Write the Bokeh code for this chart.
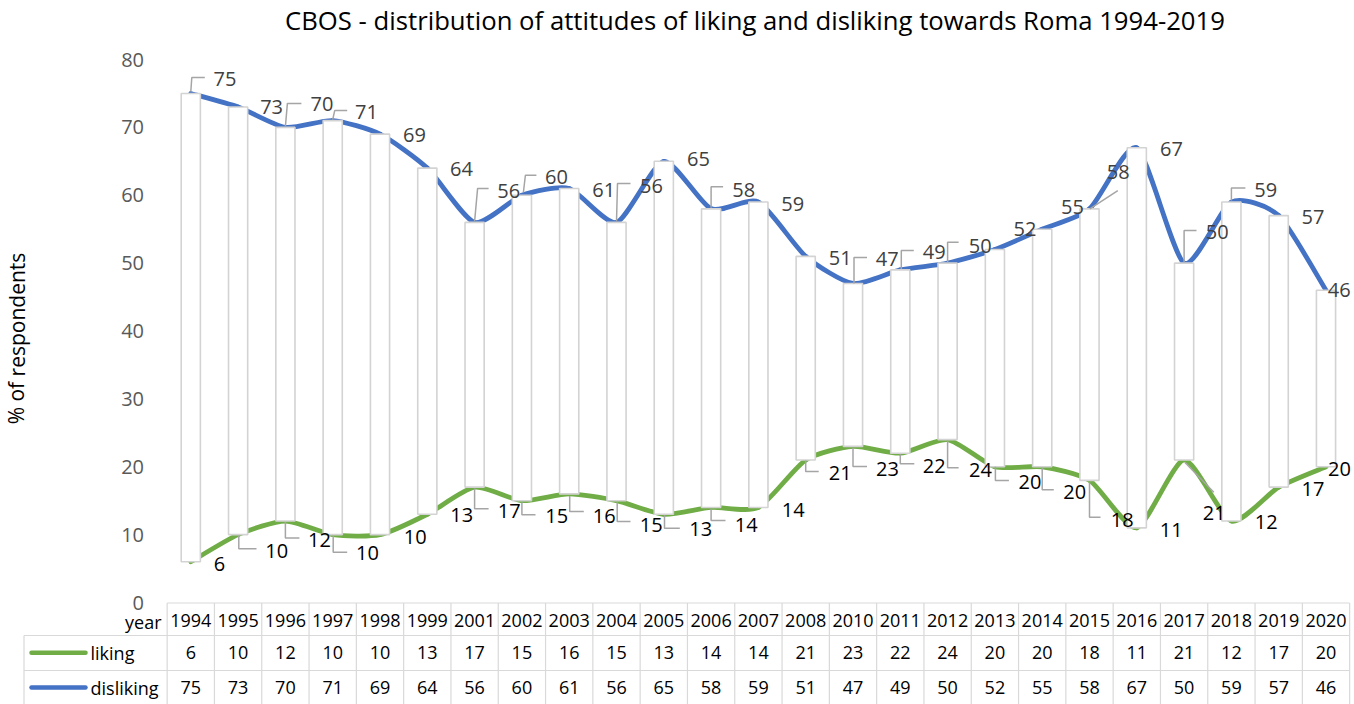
from bokeh.plotting import figure
from bokeh.models import Range1d
from bokeh.embed import file_html
from bokeh.resources import INLINE
from bokeh.core.properties import value

# ---------------- data ----------------
years = ["1994", "1995", "1996", "1997", "1998", "1999", "2001", "2002", "2003", "2004",
         "2005", "2006", "2007", "2008", "2010", "2011", "2012", "2013", "2014", "2015",
         "2016", "2017", "2018", "2019", "2020"]
liking = [6, 10, 12, 10, 10, 13, 17, 15, 16, 15, 13, 14, 14, 21, 23, 22, 24, 20, 20, 18, 11, 21, 12, 17, 20]
disliking = [75, 73, 70, 71, 69, 64, 56, 60, 61, 56, 65, 58, 59, 51, 47, 49, 50, 52, 55, 58, 67, 50, 59, 57, 46]
y_ticks = [0, 10, 20, 30, 40, 50, 60, 70, 80]
series_names = ["liking", "disliking"]
title_text = "CBOS - distribution of attitudes of liking and disliking towards Roma 1994-2019"
y_title = "% of respondents"
header_label = "year"

# ---------------- layout helpers (pixel -> data) ----------------
FIG_W, FIG_H = 1354, 704
X0_PAGE, STEP = 190.3, 47.3         # pixel x of first category, px per category
Y0_PAGE, UNIT = 602.0, 6.7875       # pixel y of value 0, px per unit

def dxp(px):
    return (px - X0_PAGE) / STEP

def dyp(py):
    return (Y0_PAGE - py) / UNIT

GREEN = "#70AD47"
BLUE = "#4472C4"
FONT = value("Open Sans")
n = len(years)
idx = list(range(n))

p = figure(width=FIG_W, height=FIG_H, output_backend="svg", toolbar_location=None,
           x_range=Range1d(dxp(0), dxp(FIG_W)), y_range=Range1d(dyp(FIG_H), dyp(0)),
           x_axis_type=None, y_axis_type=None, min_border=0,
           outline_line_color=None, background_fill_color="white", border_fill_color="white")

# ---------------- smoothed lines ----------------
def bez(vals, k=9.0):
    x0, y0, x1, y1, cx0, cy0, cx1, cy1 = [], [], [], [], [], [], [], []
    m = len(vals)
    for i in range(m - 1):
        a, b = max(i - 1, 0), min(i + 2, m - 1)
        x0.append(i); y0.append(vals[i]); x1.append(i + 1); y1.append(vals[i + 1])
        cx0.append(i + (i + 1 - a) / k); cy0.append(vals[i] + (vals[i + 1] - vals[a]) / k)
        cx1.append(i + 1 - (b - i) / k); cy1.append(vals[i + 1] - (vals[b] - vals[i]) / k)
    return dict(x0=x0, y0=y0, x1=x1, y1=y1, cx0=cx0, cy0=cy0, cx1=cx1, cy1=cy1)

for vals, col in ((liking, GREEN), (disliking, BLUE)):
    b = bez(vals)
    p.bezier(x0=b["x0"], y0=b["y0"], x1=b["x1"], y1=b["y1"], cx0=b["cx0"], cy0=b["cy0"],
             cx1=b["cx1"], cy1=b["cy1"], line_color=col, line_width=4.8, line_cap="round")

# ---------------- up-down bars ----------------
p.vbar(x=idx, bottom=liking, top=disliking, width=0.405, fill_color="white",
       line_color="#D3D3D3", line_width=1.6)

# ---------------- data labels (pixel offsets of label centres) ----------------
dis_off = [(34.2, -14.9), (33.5, 0), (36.6, -23.6), (33.8, -8.4), (34.5, 1.3), (34.2, 0.4),
           (34.2, -31.9), (34.6, -18), (34.6, 2), (35, -36.9), (34.7, -2.8), (32.7, -19),
           (34.4, 1.8), (34.5, 1.9), (34.2, -24.7), (34, -17.7), (32.6, -17.6), (30.1, -21),
           (30.3, -22), (28.7, -36.6), (34.7, 1.1), (33.1, -31.6), (34.4, -12.2), (34.3, 1.6),
           (13.2, 0.2)]
lik_off = [(28.7, 2), (38.7, 15.9), (34.1, 18.75), (34.8, 18.6), (35.2, 1.9), (34.5, 1.2),
           (34.6, 23.4), (34.9, 15.8), (35.1, 21.6), (34.8, 24.1), (37, 14.5), (35.2, 17.3),
           (34.9, 2.3), (34.5, 13.2), (34.5, 22.4), (34, 13.3), (32.9, 30.2), (35.1, 15.4),
           (32.5, 25.4), (32.7, 39.5), (34.5, 1.7), (30.2, 53.2), (34.9, 1.15), (34.3, 1.7),
           (13.5, 2)]
dis_lead = {0: [(0, -2), (1, -16), (14, -16)], 2: [(0, -1), (2, -24), (16, -24)],
            3: [(0, -1), (2, -10), (14.5, -10)], 6: [(0, -1), (3, -34), (14, -34)],
            7: [(1.5, -3), (3.5, -20), (14.5, -20)], 9: [(0, -1), (1, -39), (14, -39)],
            11: [(0, -1), (0, -22), (12, -22)], 14: [(1, 0), (1, -26), (14, -26)],
            15: [(1, -1), (1, -19.4), (13.5, -19.4)], 16: [(0, -1), (0, -21), (11, -21)],
            19: [(0.3, 0), (28.3, -18.3)], 21: [(0, -1), (0, -32.6), (12.4, -32.6)],
            22: [(0, -1.5), (0, -14), (14, -14)]}
lik_lead = {1: [(0.7, 1), (0.7, 14.2), (18.4, 14.2)], 2: [(0, 1), (0, 17), (14, 17)],
            3: [(0.5, 1), (0.5, 17.6), (14.5, 17.6)], 6: [(0, 1.5), (0, 21.7), (14, 21.7)],
            7: [(0, 1.5), (0, 14), (13.6, 14)], 8: [(0.5, 2), (0.5, 17.6), (14.6, 17.6)],
            9: [(0.7, 1.5), (0.7, 20.8), (14, 20.8)], 10: [(0.7, 1), (0.7, 13.9), (16, 13.9)],
            11: [(0, 1.3), (0, 13), (14.4, 13)], 13: [(0, 0.5), (0, 11.5), (13, 11.5)],
            14: [(0, 1), (0, 20), (14, 20)], 15: [(0, 1), (0, 10.6), (14, 10.6)],
            16: [(0, 1), (0, 28.2), (11, 28.2)], 17: [(0.5, 0), (0.5, 13.75), (14, 13.75)],
            18: [(0, 1), (0, 23), (11.6, 23)], 19: [(0, 2), (0, 37), (11, 37)],
            21: [(0.7, 2.2), (29.7, 32.2)]}

for vals, leads in ((disliking, dis_lead), (liking, lik_lead)):
    xs, ys = [], []
    for i, pts in leads.items():
        xs.append([i + a / STEP for a, _ in pts])
        ys.append([vals[i] - c / UNIT for _, c in pts])
    p.multi_line(xs=xs, ys=ys, line_color="#A5A5A5", line_width=1.5)

for vals, offs, col in ((disliking, dis_off, "#404040"), (liking, lik_off, "#000000")):
    p.text(x=idx, y=vals, text=[str(v) for v in vals],
           x_offset=[o[0] for o in offs], y_offset=[o[1] for o in offs],
           text_align="center", text_baseline="middle", text_font=FONT,
           text_font_size="20px", text_color=col)

# ---------------- y tick labels ----------------
p.text(x=[dxp(143.5)] * len(y_ticks), y=y_ticks, text=[str(t) for t in y_ticks],
       text_align="right", text_baseline="middle", text_font=FONT,
       text_font_size="20px", text_color="#595959")

# ---------------- titles ----------------
p.text(x=[dxp(754.5)], y=[dyp(19.5)], text=[title_text], text_align="center",
       text_baseline="middle", text_font=FONT, text_font_size="25.7px", text_color="#000000")
p.text(x=[dxp(16)], y=[dyp(338)], text=[y_title], angle=1.5707963, text_align="center",
       text_baseline="middle", text_line_height=1.0, text_font=FONT, text_font_size="21px",
       text_color="#000000")

# ---------------- data table ----------------
T_TOP, R1, R2, T_BOT = 602.5, 635, 670, 704
LEFT = 23.5
GRID = "#D9D9D9"
col_edges = [i - 0.5 for i in range(n + 1)]
p.multi_line(xs=[[e, e] for e in col_edges], ys=[[dyp(T_TOP), dyp(T_BOT)]] * len(col_edges),
             line_color=GRID, line_width=1.2)
p.multi_line(xs=[[-0.5, n - 0.5], [dxp(LEFT), n - 0.5], [dxp(LEFT), n - 0.5], [dxp(LEFT), dxp(LEFT)]],
             ys=[[dyp(T_TOP)] * 2, [dyp(R1)] * 2, [dyp(R2)] * 2, [dyp(R1), dyp(T_BOT)]],
             line_color=GRID, line_width=1.2)

p.text(x=idx, y=[dyp(619.5)] * n, text=years, text_align="center", text_baseline="middle",
       text_font=FONT, text_font_size="18px", text_color="#000000")
p.text(x=[dxp(161)], y=[dyp(621.5)], text=[header_label], text_align="right",
       text_baseline="middle", text_font=FONT, text_font_size="18px", text_color="#000000")

row_mid = [dyp(652.3), dyp(687)]
for vals, name, col, ym in ((liking, series_names[0], GREEN, row_mid[0]),
                            (disliking, series_names[1], BLUE, row_mid[1])):
    p.text(x=idx, y=[ym] * n, text=[str(v) for v in vals], text_align="center",
           text_baseline="middle", text_font=FONT, text_font_size="18px", text_color="#000000")
    p.line(x=[dxp(31), dxp(85)], y=[ym, ym], line_color=col, line_width=4.5, line_cap="round")
    p.text(x=[dxp(90)], y=[ym], text=[name], text_align="left", text_baseline="middle",
           text_font=FONT, text_font_size="18px", text_color="#000000")

open("out.html", "w").write(file_html(p, INLINE))
